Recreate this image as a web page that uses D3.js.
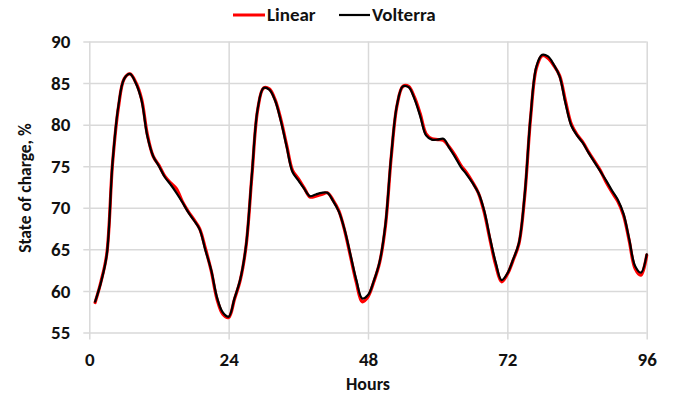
<!DOCTYPE html>
<html>
<head>
<meta charset="utf-8">
<script src="https://cdn.jsdelivr.net/npm/d3@7"></script>
<style>
  html, body { margin: 0; padding: 0; background: #fff; }
  svg { display: block; font-family: Carlito, Lato, "Open Sans", sans-serif; font-weight: bold; }
</style>
</head>
<body>
<svg id="chart" width="683" height="395"></svg>
<script>
// Hours of the simulation (1..96)
const hours = d3.range(1, 97);

// State of charge (%) per hour, Volterra model
const volterra = [
  58.7, 61.0, 64.3, 75.4, 82.2, 85.5, 86.1, 85.0, 82.9, 78.6,
  76.2, 75.0, 73.7, 72.8, 71.8, 70.7, 69.5, 68.5, 67.4, 64.9,
  62.5, 59.2, 57.4, 56.9, 59.1, 61.4, 65.5, 74.0, 81.9, 84.4,
  84.2, 82.9, 80.4, 77.3, 74.3, 73.3, 72.3, 71.4, 71.6, 71.8,
  71.8, 70.8, 69.5, 67.3, 64.3, 61.3, 59.1, 59.5, 61.2, 63.5,
  68.0, 76.3, 82.4, 84.6, 84.5, 83.1, 81.0, 78.7, 78.2, 78.2,
  78.3, 77.2, 76.1, 74.9, 74.0, 73.0, 71.8, 69.7, 66.4, 63.4,
  61.3, 62.1, 63.8, 65.8, 71.7, 81.0, 87.0, 88.4, 88.2, 87.2,
  85.8, 82.6, 79.9, 78.7, 77.8, 76.6, 75.5, 74.4, 73.3, 72.1,
  71.0, 69.3, 66.2, 63.0, 62.2, 64.4
];

// State of charge (%) per hour, linear model
const linear = [
  58.6, 61.1, 64.4, 75.3, 82.0, 85.5, 86.1, 85.1, 83.1, 78.8,
  76.2, 75.1, 73.8, 73.0, 72.3, 70.8, 69.6, 68.6, 67.5, 65.1,
  62.4, 59.0, 57.2, 56.8, 59.0, 61.3, 65.4, 73.8, 81.8, 84.4,
  84.3, 83.0, 80.6, 77.5, 74.5, 73.5, 72.4, 71.3, 71.4, 71.6,
  71.8, 70.9, 69.6, 67.2, 64.1, 61.0, 58.7, 59.3, 61.1, 63.4,
  67.8, 76.1, 82.3, 84.6, 84.6, 83.3, 81.3, 78.9, 78.3, 78.2,
  78.1, 77.3, 76.3, 75.1, 74.2, 73.1, 71.8, 69.5, 66.2, 63.1,
  61.1, 62.0, 63.7, 65.7, 71.5, 80.8, 86.8, 88.3, 88.0, 87.1,
  85.9, 82.9, 80.1, 78.8, 77.9, 76.7, 75.6, 74.5, 73.1, 71.9,
  70.8, 69.1, 66.0, 62.7, 61.9, 64.3
];

// Axis ticks
const xTicks = [0, 24, 48, 72, 96];
const yTicks = [55, 60, 65, 70, 75, 80, 85, 90];

const series = [
  { name: "Linear",   values: linear,   color: "#ff0000", width: 3.2 },
  { name: "Volterra", values: volterra, color: "#000000", width: 2.2 }
];

const svg = d3.select("#chart");
const plot = { left: 89.3, right: 646.7, top: 41.5, bottom: 332.5 };

const x = d3.scaleLinear().domain([0, 96]).range([plot.left, plot.right]);
const y = d3.scaleLinear().domain([55, 90]).range([plot.bottom, plot.top]);

const gridColor = "#d9d9d9";
const textColor = "#111111";
const fontSize = 19;

// Horizontal gridlines (extend slightly left as tick marks)
const yAxis = d3.axisLeft(y).tickValues(yTicks).tickSize(-(plot.right - plot.left)).tickPadding(13).tickSizeOuter(0);
const gy = svg.append("g").attr("transform", `translate(${plot.left},0)`).call(yAxis);
gy.select(".domain").remove();
gy.selectAll(".tick line").attr("stroke", gridColor).attr("stroke-width", 1.5).attr("x1", -6);
gy.selectAll(".tick text").attr("font-size", fontSize).attr("fill", textColor)
  .attr("font-family", "Carlito, Lato, sans-serif").attr("font-weight", "bold").attr("x", -19);

// Vertical gridlines (extend slightly below as tick marks)
const xAxis = d3.axisBottom(x).tickValues(xTicks).tickSize(-(plot.bottom - plot.top)).tickPadding(14).tickSizeOuter(0);
const gx = svg.append("g").attr("transform", `translate(0,${plot.bottom})`).call(xAxis);
gx.select(".domain").remove();
gx.selectAll(".tick line").attr("stroke", gridColor).attr("stroke-width", 1.5).attr("y1", 7);
gx.selectAll(".tick text").attr("font-size", fontSize).attr("fill", textColor)
  .attr("font-family", "Carlito, Lato, sans-serif").attr("font-weight", "bold").attr("y", 20);

// Series lines, smoothed
const line = d3.line()
  .x((d, i) => x(hours[i]))
  .y(d => y(d))
  .curve(d3.curveCatmullRom.alpha(0.5));

svg.append("g").selectAll("path")
  .data(series)
  .join("path")
  .attr("d", d => line(d.values))
  .attr("fill", "none")
  .attr("stroke", d => d.color)
  .attr("stroke-width", d => d.width)
  .attr("stroke-linejoin", "round")
  .attr("stroke-linecap", "round");

// Axis titles
svg.append("text")
  .attr("x", x(48)).attr("y", 390)
  .attr("text-anchor", "middle")
  .attr("font-size", 18).attr("fill", textColor)
  .text("Hours");

svg.append("text")
  .attr("transform", `translate(31,${(plot.top + plot.bottom) / 2 + 1}) rotate(-90)`)
  .attr("text-anchor", "middle")
  .attr("font-size", 17.5).attr("fill", textColor)
  .text("State of charge, %");

// Legend
const legendItems = [
  { s: series[0], x0: 233, x1: 265 },
  { s: series[1], x0: 339, x1: 370 }
];
const lg = svg.append("g");
legendItems.forEach(it => {
  lg.append("line")
    .attr("x1", it.x0).attr("x2", it.x1).attr("y1", 15).attr("y2", 15)
    .attr("stroke", it.s.color).attr("stroke-width", it.s.name === "Linear" ? 3 : 2.2);
  lg.append("text")
    .attr("x", it.x1 + 2).attr("y", 21)
    .attr("font-size", fontSize).attr("fill", textColor)
    .text(it.s.name);
});
</script>
</body>
</html>
